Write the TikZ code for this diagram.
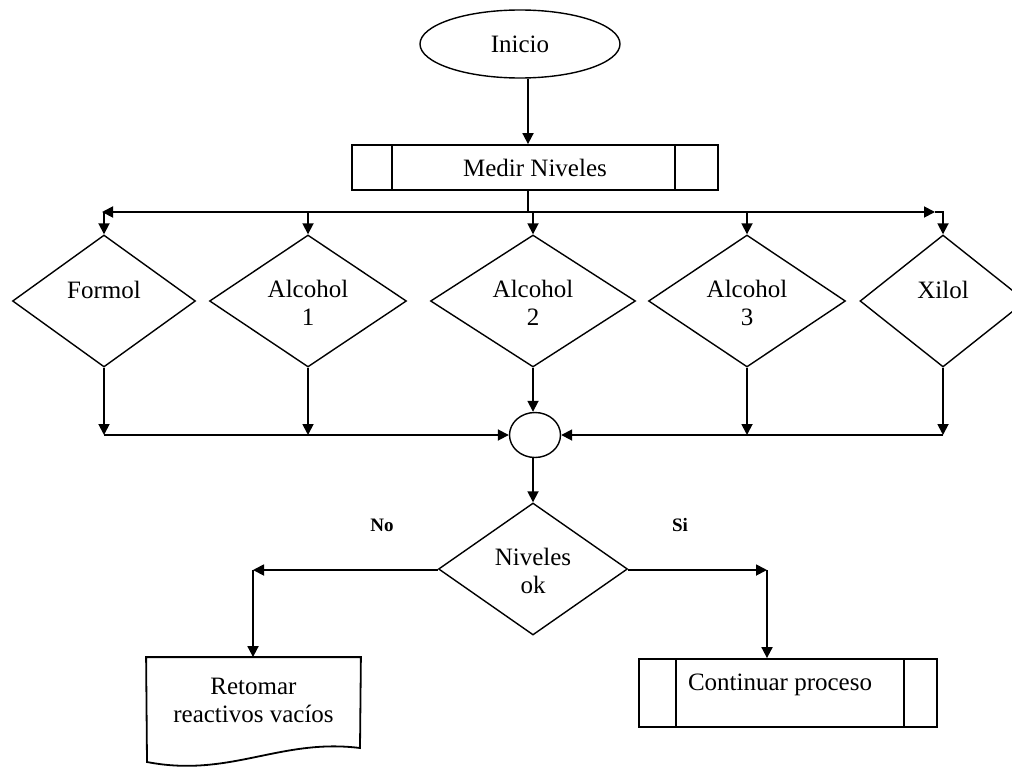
\documentclass[tikz,border=0pt]{standalone}
\usepackage{fontspec}
\setmainfont{Liberation Serif}
\usetikzlibrary{shapes.geometric,arrows.meta}
\begin{document}
\begin{tikzpicture}[x=1pt,y=-1pt,
  font=\fontsize{25}{28}\selectfont,
  line width=1.8pt,
  arr/.style={-{Triangle[length=11pt,width=11pt]}},
  diam/.style={draw,diamond,line width=1.4pt,inner sep=0pt,minimum height=132pt},
  txt/.style={align=center,inner sep=0pt},
  lbl/.style={font=\fontsize{19}{22}\selectfont\bfseries,inner sep=0pt},
  proc/.style={draw,rectangle,inner sep=0pt}
]
\useasboundingbox (0,0) rectangle (1012,768);
\fill[white] (0,0) rectangle (1012,768);

% start
\node[draw,ellipse,line width=1.4pt,minimum width=200pt,minimum height=68pt] (ini) at (520,44) {Inicio};

% measure
\node[proc,minimum width=366pt,minimum height=45pt] (med) at (535,167.5) {Medir Niveles};
\draw ([xshift=41pt]med.north west) -- ([xshift=41pt]med.south west);
\draw ([xshift=-44pt]med.north east) -- ([xshift=-44pt]med.south east);

\coordinate (sp) at (528,212);
\coordinate (bl) at (102,212);
\coordinate (br) at (935,212);
\draw[arr] (ini.south -| sp) -- (sp |- med.north);

% diamonds
\node[diam,minimum width=183pt] (d1) at (104,301) {};
\node[diam,minimum width=197pt] (d2) at (308,301) {};
\node[diam,minimum width=205pt] (d3) at (533,301) {};
\node[diam,minimum width=197pt] (d4) at (747,301) {};
\node[diam,minimum width=166pt] (d5) at (943,301) {};
\node[txt] (t1) at (104,290) {Formol};
\node[txt] (t2) at (308,303) {Alcohol\\1};
\node[txt] (t3) at (533,303) {Alcohol\\2};
\node[txt] (t4) at (747,303) {Alcohol\\3};
\node[txt] (t5) at (943,290) {Xilol};

% top bus
\draw (med.south -| sp) -- (sp);
\draw[arr] (sp) -- (bl);
\draw[arr] (sp) -- (br);
\draw[arr] (d1.north |- sp) -- (d1.north);
\draw[arr] (d2.north |- sp) -- (d2.north);
\draw[arr] (sp -| d3.north) -- (d3.north);
\draw[arr] (d4.north |- sp) -- (d4.north);
\draw[arr] (br) -- (d5.north |- sp) -- (d5.north);

% junction
\node[draw,ellipse,line width=1.4pt,minimum width=51pt,minimum height=45pt,inner sep=0pt] (cj) at (535,435) {};

\draw[arr] (d1.south) -- (d1.south |- cj);
\draw[arr] (d2.south) -- (d2.south |- cj);
\draw[arr] (d4.south) -- (d4.south |- cj);
\draw[arr] (d5.south) -- (d5.south |- cj);
\draw[arr] (d1.south |- cj) -- (cj.west);
\draw[arr] (d5.south |- cj) -- (cj.east);
\draw[arr] (d3.south) -- (d3.south |- cj.north);

% decision
\node[diam,minimum width=189pt] (nv) at (533,569) {};
\node[txt] (tnv) at (533,571) {Niveles\\ok};
\draw[arr] (cj.south -| nv.north) -- (nv.north);

\node[lbl] (no) at (382,525) {No};
\node[lbl] (si) at (680,525) {Si};

% left branch
\coordinate (cl) at (253,570);
\node[txt,minimum width=213pt,minimum height=84pt] (doc) at (253.5,700) {Retomar\\reactivos vac\'{\i}os};
\draw (doc.north east) -- (360,748) .. controls (280,738) and (230,778) .. (147,762) -- (doc.north west) -- cycle;
\draw[arr] (nv.west |- cl) -- (cl);
\draw[arr] (cl) -- (cl |- doc.north);

% right branch
\coordinate (cr) at (767,570);
\node[proc,minimum width=298pt,minimum height=68pt] (cp) at (788,693) {};
\draw ([xshift=38pt]cp.north west) -- ([xshift=38pt]cp.south west);
\draw ([xshift=-34pt]cp.north east) -- ([xshift=-34pt]cp.south east);
\node[txt] (tcp) at (780,685) {Continuar proceso};
\draw[arr] (nv.east |- cr) -- (cr);
\draw[arr] (cr) -- (cr |- cp.north);
\end{tikzpicture}
\end{document}
